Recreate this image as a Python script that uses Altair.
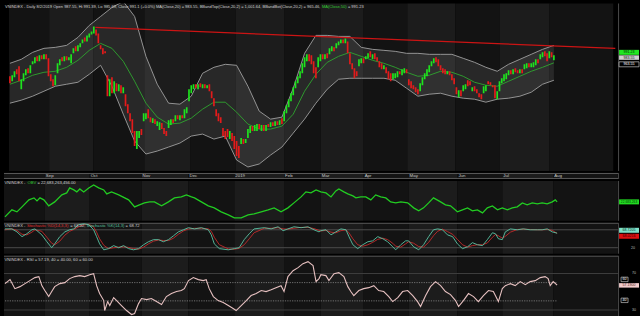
import altair as alt
import pandas as pd

# ---------------- data ----------------
opens = [970,965,969,977,980,957,965,971,978,973,
         982,983,990,985,991,987,992,988,972,967,
         961,973,981,989,985,990,986,983,993,1000,
         995,999,1003,1009,1005,1009,1012,1013,1017,1013,
         1001,998,995,971,950,969,953,963,955,961,
         953,952,942,933,927,915,897,908,917,925,
         927,937,929,923,927,920,916,923,918,915,
         918,921,927,925,931,926,931,928,933,945,
         953,957,962,957,963,958,962,958,962,955,
         948,937,933,929,918,915,917,907,913,910,
         905,900,902,907,903,908,913,920,915,915,
         922,915,921,915,922,919,924,920,925,921,
         928,925,933,939,945,951,958,963,968,973,
         979,985,992,991,985,979,979,985,992,987,
         993,992,995,999,998,1001,1003,1007,1003,1005,
         993,983,978,975,980,983,988,987,988,995,
         987,993,989,985,983,977,979,975,973,967,
         968,969,975,971,973,977,967,965,961,959,
         957,955,961,967,970,974,980,983,989,987,
         981,978,977,972,975,972,968,959,949,956,
         955,957,966,965,955,960,957,953,952,953,
         955,965,964,961,961,947,955,963,965,967,
         971,976,972,978,976,973,977,977,978,983,
         979,979,981,987,987,989,995,993,988,994,
         986]
closes = [963,971,975,972,965,967,973,977,973,981,
          985,989,985,991,987,992,987,970,965,960,
          971,983,987,985,990,986,989,992,998,995,
          1001,1003,1007,1005,1011,1013,1015,1020,1011,1003,
          997,992,993,950,967,953,965,955,962,953,
          959,940,933,925,913,900,915,915,911,933,
          933,928,924,928,922,925,924,917,912,910,
          926,927,923,931,927,931,928,937,939,957,
          961,962,958,962,959,962,958,961,955,948,
          940,930,925,923,910,907,909,915,905,897,
          890,888,908,902,907,917,920,915,921,922,
          917,921,915,921,919,924,920,925,921,926,
          922,935,941,947,953,959,965,970,975,983,
          989,992,985,982,973,968,989,992,987,992,
          988,998,1000,995,1003,1005,1007,1003,1008,993,
          982,977,968,970,987,988,983,990,993,989,
          992,987,985,979,977,981,973,967,965,973,
          973,975,972,977,978,973,961,958,957,954,
          952,963,969,973,977,981,985,988,984,980,
          976,973,972,975,971,966,962,952,956,950,
          961,962,960,961,959,955,953,949,947,960,
          961,962,961,959,948,955,965,968,972,973,
          976,972,977,974,973,977,973,982,983,979,
          983,984,987,983,992,994,990,985,995,989,
          991]

bb_idx = list(range(0, 241, 5))
bb_upper = [983,987,994,998,999,1001,1009,1021,1030,1039,1045,1030,990,962,943,942,950,973,979,982,
            981,960,935,927,929,958,993,1011,1011,1010,1010,999,997,996,995,993,993,992,992,992,
            988,984,979,975,982,987,992,997,1001]
bb_lower = [943,946,950,955,960,962,964,972,981,960,932,905,892,895,899,903,910,912,907,910,
            886,879,882,891,899,913,927,943,957,967,968,968,968,968,966,958,950,952,953,950,
            948,947,944,947,948,950,954,962,966]
ma20 = [962,966,971,974,975,979,986,996,1003,998,985,965,943,929,922,923,928,937,944,944,
        934,922,917,917,920,932,955,972,984,990,994,990,986,983,979,974,970,971,975,974,
        970,964,961,960,965,970,975,979,983.5]

trend_idx = [37.7, 267.1]
trend_val = [1019, 998]

obv_idx = [0,3,5.2,7.4,10.4,12.6,13.9,15.2,16.9,19,21.6,24.7,26.8,28.1,29.9,31.2,32.5,34.2,36.4,38.5,
           40.7,42.9,44.2,46.3,49.4,53.7,56.3,58.4,60.6,62.8,64.9,68,71,73.6,76.6,78.8,81,82.3,85.3,88.3,
           90.9,93.9,97,99.6,102.6,105.6,108.2,111.3,114.3,116.9,119.9,122.9,125.5,128.6,130.7,132.9,135.1,137.2,139.4,141.6,
           143.7,145,147.2,148.9,151.1,152.4,154.5,156.7,158.9,161,163.2,165.4,167.5,169.7,171.9,174.9,177.5,179.7,181.8,184,
           186.1,189.2,191.3,193.5,196.5,198.7,200.9,203,205.2,207.4,209.5,211.7,213.9,216,218.2,220.3,222.5,224.7,226.8,229,
           231.2,233.3,235.5,237.7,239,239.8]
obv_val = [21.18,21.88,21.68,22.18,22.88,23.08,22.78,23.08,22.88,22.28,22.68,23.38,23.58,24.08,23.88,23.68,23.98,23.68,24.08,24.38,
           24.08,23.88,23.48,23.68,23.38,22.88,22.18,22.38,22.58,22.68,22.68,22.28,22.68,23.08,23.18,23.38,23.18,23.08,22.68,22.28,
           22.08,21.68,21.38,21.08,21.08,21.38,21.48,21.68,21.88,22.08,21.68,22.08,22.58,23.18,23.68,23.58,23.88,23.68,23.58,23.18,
           23.78,23.98,23.68,23.48,23.28,23.08,23.18,23.18,22.88,23.38,23.18,23.08,22.68,22.58,22.68,22.58,22.08,21.78,22.08,22.58,
           23.08,22.68,22.38,22.28,21.68,21.88,22.08,21.78,21.88,21.58,22.08,22.28,21.88,22.08,21.88,22.08,22.18,22.58,22.38,22.58,
           22.48,22.58,22.48,22.68,22.88,22.68]

stoch_idx = [0,3,5.2,7.4,9.5,11.7,13,16,18.2,20.3,21.6,23.8,26,28.1,29.9,32,34.2,36.4,38.5,39.8,
             41.1,42.9,45,47.2,49.4,51.5,53.7,55.8,58,60.2,62.3,64.5,66.7,68.8,71,73.2,75.3,77.5,79.7,82.3,
             85.3,88.3,89.6,90.9,93.1,97,99.6,101.7,103.9,106.1,108.2,112.6,115.6,118.6,120.8,122.9,125.5,128.6,131.6,134.2,
             136.4,137.2,139.4,141.6,143.7,145.9,148.1,149.4,151.1,153.2,155.4,157.6,159.7,161.9,164.1,166.2,168.4,169.7,171.9,174,
             175.3,177.5,179.7,181.8,184,186.1,187.9,190,192.2,194.4,196.5,198.7,200.9,203,205.2,207.4,209.5,211.7,213,214.3,
             216,217.3,219.5,222.5,225.1,228.1,231.2,233.3,235.5,237.7,239.8]
stoch_k = [83,83,73,57,67,80,83,63,40,20,33,57,73,80,83,97,100,97,80,57,
           33,13,17,27,20,27,17,13,17,30,40,47,47,40,47,60,73,80,87,83,
           87,80,63,33,17,13,17,20,47,67,83,87,83,90,77,83,90,87,90,80,
           73,77,80,63,73,83,80,57,30,17,30,40,43,57,50,40,23,13,30,43,
           43,23,13,30,57,80,83,80,63,57,33,17,23,37,30,27,47,70,67,50,
           47,73,83,80,83,80,80,80,83,73,68.72]
stoch_d = [80,83,78,65,63,72,80,75,55,35,30,42,62,75,81,90,97,98,90,72,
           50,28,17,20,22,23,21,17,15,22,33,42,46,44,44,52,65,76,83,85,
           85,83,75,55,30,16,15,18,30,50,70,85,85,87,83,82,85,88,88,84,
           78,76,78,72,70,77,80,70,50,30,25,30,38,48,52,47,35,25,22,33,
           40,35,24,22,38,60,75,82,74,65,48,30,22,27,30,30,36,55,64,60,
           52,58,72,81,82,81,80,80,81,78,68.02]

rsi_idx = [0,2.2,4.3,6.5,8.7,10.8,13,14.7,16,17.3,19,20.3,21.6,23.8,26,28.1,30.3,32.5,34.6,36.8,
           38.5,39.8,41.1,42.9,43.3,44.6,45.5,47.2,48.5,50.6,52.8,55,56.3,58,59.3,61.5,63.6,65.8,68,70.1,
           72.3,74.5,76.6,77.9,79.7,81.8,84,86.1,87.4,88.7,90.5,92.6,94.8,97,99.1,100.4,102.6,104.8,106.9,109.1,
           111.3,113.4,115.6,117.7,119.9,121.2,122.9,125.1,127.3,129.4,131.6,133.8,135.1,136.4,137.2,139.4,140.7,142.9,145,147.2,
           148.9,150.2,151.5,153.7,155.8,158,160.2,162.3,164.5,166.7,168.4,170.6,172.7,174.9,177.1,179.2,180.5,182.7,184.8,187,
           189.2,191.3,193.5,195.7,197,199.1,201.3,203.5,205.6,207.8,210,212.1,214.3,216,217.3,219.5,221.6,223.8,226,228.1,
           230.3,232.5,234.6,235.9,236.8,238.1,239.8]
rsi_val = [58.9,63.3,53.4,55.6,58.9,62.2,65.5,66.6,56.7,51.3,44.7,50.2,55.6,58.9,60,64.4,66.6,67.7,66.6,68.7,
           69.8,56.7,48,40.3,29.4,39.2,34.9,43.6,40.3,34.9,29.4,25,26.1,37,42.5,41.4,42.5,39.2,36,44.7,
           48,50.2,51.3,53.4,62.2,65.5,63.3,62.2,63.3,53.4,44.7,40.3,38.1,34.9,31.6,29.4,34.9,40.3,45.8,48,
           51.3,50.2,52.3,54.5,56.7,50.2,66.6,73.1,76.4,80.8,83,78.6,61.1,64.4,68.7,67.7,62.2,69.8,70.9,66.6,
           55.6,50.2,45.8,51.3,53.4,54.5,56.7,51.3,50.2,44.7,39.2,43.6,50.2,51.3,45.8,39.2,33.8,45.8,55.6,61.1,
           56.7,50.2,46.9,40.3,33.8,40.3,48,44.7,39.2,45.8,51.3,50.2,39.2,53.4,56.7,58.9,56.7,61.1,57.8,61.1,
           62.2,65.5,66.6,64.4,56.7,61.1,57.19]

month_names = ["Sep", "Oct", "Nov", "Dec", "2019", "Feb", "Mar", "Apr", "May", "Jun", "Jul", "Aug"]
month_edges = [-0.43, 17.3, 36.8, 59.3, 79.7, 99.6, 121.2, 137.2, 155.8, 175.3, 196.5, 216.0, 238.1, 266.2]

stoch_levels = [80, 20]
rsi_solid_levels = [70, 30]
rsi_dotted_levels = [60, 40]

# ---------------- styling ----------------
F = "Liberation Sans, Arial, sans-serif"
W = 638
XS = alt.Scale(domain=[-0.43, 275.8], nice=False, zero=False)
PLOT_END = 266.2
PLOT_END_PX = 616
GREEN = "#1ee31e"
RED = "#e31b1b"
DARK = "#131313"
LIGHT = "#1c1c1c"
TXT = "#d0d0d0"
BORDER = "#4a4a4a"

PRICE_DOM = [875, 1043]
OBV_DOM = [20.78, 24.78]
STOCH_DOM = [0, 103.3]
RSI_DOM = [19.56, 89.5]

one = pd.DataFrame({"k": [0]})


def X(f):
    return alt.X(f, type="quantitative", scale=XS, axis=None)


def Y(f, dom):
    return alt.Y(f, type="quantitative", scale=alt.Scale(domain=dom, nice=False, zero=False), axis=None)


stripe_df = pd.DataFrame({
    "x0": month_edges[:-1],
    "x1": month_edges[1:],
    "fill": [DARK if k % 2 == 0 else LIGHT for k in range(len(month_edges) - 1)],
})


def stripes(h):
    return alt.Chart(stripe_df).mark_rect().encode(
        x=X("x0"), x2="x1", y=alt.value(0), y2=alt.value(h),
        color=alt.Color("fill:N", scale=None))


def rect(x0, x1, y0, y1, fill, stroke=None):
    kw = dict(fill=fill)
    if stroke:
        kw.update(stroke=stroke, strokeWidth=0.6)
    else:
        kw.update(strokeWidth=0)
    return alt.Chart(one).mark_rect(**kw).encode(
        x=alt.value(x0), x2=alt.value(x1), y=alt.value(y0), y2=alt.value(y1))


def text(s, x, y, color, size=4.2, align="left"):
    return alt.Chart(one).mark_text(text=s, color=color, fontSize=size, font=F,
                                    align=align, baseline="middle").encode(
        x=alt.value(x), y=alt.value(y))


def hrule(y, color, x0=0, x1=PLOT_END_PX, w=1.0):
    return alt.Chart(one).mark_rule(color=color, strokeWidth=w).encode(
        x=alt.value(x0), x2=alt.value(x1), y=alt.value(y))


def right_side(h):
    return [rect(PLOT_END_PX, W, 0, h, "#000000"),
            alt.Chart(one).mark_rule(color=BORDER, strokeWidth=1).encode(
                x=alt.value(PLOT_END_PX + 0.5), y=alt.value(0), y2=alt.value(h))]


def label_box(s, y0, y1, fill, tcolor, stroke=None, x0=617, x1=637, size=3.6):
    return [rect(x0, x1, y0, y1, fill, stroke),
            text(s, (x0 + x1) / 2, (y0 + y1) / 2, tcolor, size=size, align="center")]


# ---------------- price panel ----------------
H1 = 168
cdf = pd.DataFrame({"i": list(range(len(closes))), "o": opens, "c": closes})
cdf["col"] = [GREEN if c >= o else RED for o, c in zip(opens, closes)]
bdf = pd.DataFrame({"i": bb_idx, "u": bb_upper, "l": bb_lower, "m": ma20})
tdf = pd.DataFrame({"i": trend_idx, "v": trend_val})

price_layers = [stripes(H1)]
price_layers += right_side(H1)
price_layers += [
    alt.Chart(bdf).mark_area(color="#ffffff", opacity=0.09, clip=True).encode(
        x=X("i"), y=Y("u", PRICE_DOM), y2="l"),
    alt.Chart(bdf).mark_line(color="#a0a0a0", strokeWidth=0.9, clip=True).encode(
        x=X("i"), y=Y("u", PRICE_DOM)),
    alt.Chart(bdf).mark_line(color="#a0a0a0", strokeWidth=0.9, clip=True).encode(
        x=X("i"), y=Y("l", PRICE_DOM)),
    alt.Chart(bdf).mark_line(color="#2fa52f", strokeWidth=0.9, clip=True).encode(
        x=X("i"), y=Y("m", PRICE_DOM)),
    alt.Chart(cdf).mark_bar(size=1.7, clip=True).encode(
        x=X("i"), y=Y("o", PRICE_DOM), y2="c", color=alt.Color("col:N", scale=None)),
    alt.Chart(tdf).mark_line(color="#cc1414", strokeWidth=1.2, clip=True).encode(
        x=X("i"), y=Y("v", PRICE_DOM)),
    text("VNINDEX - Daily 8/2/2019 Open 987.55, Hi 991.39, Lo 985.69, Close 991.1 (+0.0%) "
         "MA(Close,20) = 983.55, BBandTop(Close,20,2) = 1,001.64, BBandBot(Close,20,2) = 965.46,",
         1, 3.5, TXT, size=4.05),
    text("MA(Close,50)", 319, 3.5, "#33cc33", size=4.05),
    text("= 991.23", 345, 3.5, TXT, size=4.05),
]
price_layers += label_box("991.23", 46.5, 51.5, "#22e622", "#002200")
price_layers += label_box("983.55", 52, 56.5, "#cfcfcf", "#111111")
price_layers += label_box("963.55", 58.5, 63.5, "#000000", "#ffffff", stroke="#dddddd")
price = alt.layer(*price_layers).properties(width=W, height=H1)

# ---------------- date strip ----------------
H2 = 6
mdf = pd.DataFrame({"name": month_names, "pos": month_edges[1:13]})
strip_layers = [stripes(H2), hrule(0.5, "#5a5a5a"), hrule(5.5, "#5a5a5a")]
strip_layers += right_side(H2)
strip_layers += [
    alt.Chart(mdf).mark_text(align="left", baseline="middle", fontSize=4.4, font=F,
                             color="#c8c8c8", dx=1).encode(
        x=X("pos"), y=alt.value(3), text="name:N")
]
strip = alt.layer(*strip_layers).properties(width=W, height=H2)

# ---------------- OBV ----------------
H3 = 40
odf = pd.DataFrame({"i": obv_idx, "v": obv_val})
obv_layers = [stripes(H3)]
obv_layers += right_side(H3)
obv_layers += [
    alt.Chart(odf).mark_line(color="#22cc22", strokeWidth=1.3).encode(
        x=X("i"), y=Y("v", OBV_DOM)),
    text("VNINDEX - ", 0.5, 2.5, TXT),
    text("OBV", 23.5, 2.5, "#33cc33"),
    text("= 22,683,263,456.00", 33.5, 2.5, TXT),
]
obv_layers += label_box("22,683,263", 18.5, 23.5, "#22dd22", "#003300", size=3.3)
obv = alt.layer(*obv_layers).properties(width=W, height=H3)

# ---------------- Stochastic ----------------
H4 = 31
sdf = pd.DataFrame({"i": stoch_idx, "k": stoch_k, "d": stoch_d})
sl = pd.DataFrame({"lvl": stoch_levels, "x0": [-0.43, -0.43], "x1": [PLOT_END, PLOT_END]})
st_layers = [stripes(H4), hrule(0.5, "#555555")]
st_layers += right_side(H4)
st_layers += [
    alt.Chart(sl).mark_rule(color="#4c4c4c", strokeWidth=1).encode(
        x=X("x0"), x2="x1", y=Y("lvl", STOCH_DOM)),
    alt.Chart(sdf).mark_line(color="#c42a2a", strokeWidth=0.9).encode(
        x=X("i"), y=Y("d", STOCH_DOM)),
    alt.Chart(sdf).mark_line(color="#59c4a4", strokeWidth=0.9).encode(
        x=X("i"), y=Y("k", STOCH_DOM)),
    text("VNINDEX - ", 0.5, 3.3, TXT),
    text("Stochastic %D(14,3,3)", 23, 3.3, "#e03030"),
    text("= 68.02,", 66.5, 3.3, TXT),
    text("Stochastic %K(14,3)", 83, 3.3, "#59c4a4"),
    text("= 68.72", 122, 3.3, TXT),
    text("20", 629, 25, "#bbbbbb", size=3.6),
]
st_layers += label_box("68.7205", 5, 10, "#7fe0c8", "#003322")
st_layers += label_box("68.0216", 11, 16, "#dd1111", "#330000")
stoch = alt.layer(*st_layers).properties(width=W, height=H4)

# ---------------- RSI ----------------
H5 = 64
rdf = pd.DataFrame({"i": rsi_idx, "v": rsi_val})
rs = pd.DataFrame({"lvl": rsi_solid_levels, "x0": [-0.43, -0.43], "x1": [PLOT_END, PLOT_END]})
rd = pd.DataFrame({"lvl": rsi_dotted_levels, "x0": [0, 0], "x1": [239.8, 239.8]})
rsi_layers = [stripes(H5), hrule(0.5, "#555555")]
rsi_layers += right_side(H5)
rsi_layers += [
    alt.Chart(rs).mark_rule(color="#3e3e3e", strokeWidth=1).encode(
        x=X("x0"), x2="x1", y=Y("lvl", RSI_DOM)),
    alt.Chart(rd).mark_rule(color="#8a8a8a", strokeWidth=0.8, strokeDash=[1.2, 1.2]).encode(
        x=X("x0"), x2="x1", y=Y("lvl", RSI_DOM)),
    alt.Chart(rdf).mark_line(color="#e6c0c0", strokeWidth=1.1).encode(
        x=X("i"), y=Y("v", RSI_DOM)),
    text("VNINDEX - RSI = 57.19, 40 = 40.00, 60 = 60.00", 0.5, 4.5, TXT),
    text("70", 630, 17, "#bbbbbb", size=3.6),
    text("30", 630, 54, "#bbbbbb", size=3.6),
]
rsi_layers += label_box("60", 21.5, 26, "#000000", "#ffffff", stroke="#dddddd", x0=619, x1=626)
rsi_layers += label_box("57.1900", 27.5, 32, "#f2cccc", "#552222")
rsi_layers += label_box("40", 42.5, 47, "#000000", "#ffffff", stroke="#dddddd", x0=619, x1=626)
rsi = alt.layer(*rsi_layers).properties(width=W, height=H5)

# ---------------- bottom edge ----------------
H6 = 5
bottom = alt.layer(rect(0, W, 2, 5, "#d6d6d6")).properties(width=W, height=H6)

chart = alt.vconcat(price, strip, obv, stoch, rsi, bottom, spacing=0).configure(
    background="#000000",
    padding={"left": 2, "top": 2, "right": 0, "bottom": 0},
).configure_view(stroke=None).configure_concat(spacing=0)

chart.save("out.html", embed_options={"renderer": "svg", "actions": False})
